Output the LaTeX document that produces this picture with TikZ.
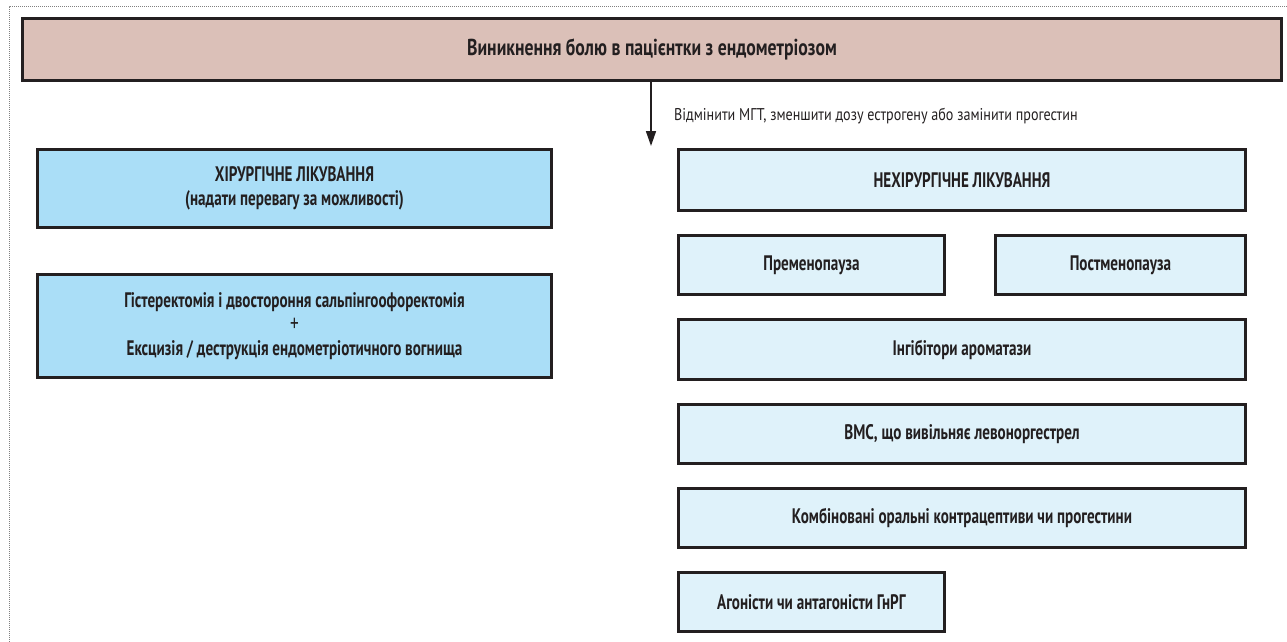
\documentclass[tikz,border=0pt]{standalone}
\usepackage{fontspec}
\setmainfont{PT Sans}[FakeStretch=0.82]
\newfontfamily\boxfont{PT Sans}[FakeStretch=0.72]
\newfontfamily\titlefont{PT Sans}[FakeStretch=0.77]
\newfontfamily\notefont{PT Sans}[FakeStretch=0.83]
\usetikzlibrary{arrows.meta}
\definecolor{topfill}{RGB}{219,192,184}
\definecolor{leftfill}{RGB}{170,222,247}
\definecolor{rightfill}{RGB}{223,242,250}
\definecolor{edge}{RGB}{35,31,32}
\tikzset{
  box/.style={draw=edge, line width=3.3pt, inner sep=2pt, align=center,
    font=\boxfont\fontsize{21}{24}\selectfont\bfseries, text=edge},
  topbox/.style={box, fill=topfill, font=\titlefont\fontsize{23}{26}\selectfont\bfseries},
  lbox/.style={box, fill=leftfill},
  rbox/.style={box, fill=rightfill},
  note/.style={font=\notefont\fontsize{17}{20}\selectfont, text=edge, inner sep=0pt, anchor=west}
}
\begin{document}
\begin{tikzpicture}[x=1pt,y=-1pt]
\useasboundingbox (0,0) rectangle (1287,642);
\begin{scope}
\clip (0,0) rectangle (1287,642);
\draw[gray, line width=1pt, densely dotted] (9,700) -- (9,7) -- (1300,7);
\end{scope}
\node[topbox, minimum width=1259pt, minimum height=62pt] (top) at (652,49.5) {Виникнення болю в пацієнтки з ендометріозом};
\node[lbox, minimum width=514pt, minimum height=78pt] (surg) at (294.5,188.5) {ХІРУРГІЧНЕ ЛІКУВАННЯ\\(надати перевагу за можливості)};
\node[lbox, minimum width=514pt, minimum height=103pt] (hyst) at (294.5,326) {Гістеректомія і двостороння сальпінгоофоректомія\\{\mdseries\fontsize{24}{24}\selectfont +}\\Ексцизія / деструкція ендометріотичного вогнища};
\node[rbox, minimum width=567pt, minimum height=61pt] (nonsurg) at (962,180) {НЕХІРУРГІЧНЕ ЛІКУВАННЯ};
\node[rbox, minimum width=266pt, minimum height=59pt] (pre) at (811.5,265) {Пременопауза};
\node[rbox, minimum width=250pt, minimum height=59pt] (post) at (1120.5,265) {Постменопауза};
\node[rbox, minimum width=567pt, minimum height=60pt] (inh) at (962,349.5) {Інгібітори ароматази};
\node[rbox, minimum width=567pt, minimum height=59pt] (vms) at (962,434) {ВМС, що вивільняє левоноргестрел};
\node[rbox, minimum width=567pt, minimum height=59pt] (koc) at (962,518) {Комбіновані оральні контрацептиви чи прогестини};
\node[rbox, minimum width=266pt, minimum height=59pt] (gnrh) at (811.5,602) {Агоністи чи антагоністи ГнРГ};
\coordinate (tip) at (651,146);
\draw[edge, line width=1.6pt, -{Triangle[length=15pt,width=10pt]}] (top.south -| tip) -- (tip);
\node[note] (lbl) at (674,116) {Відмінити МГТ, зменшити дозу естрогену або замінити прогестин};
\end{tikzpicture}
\end{document}
